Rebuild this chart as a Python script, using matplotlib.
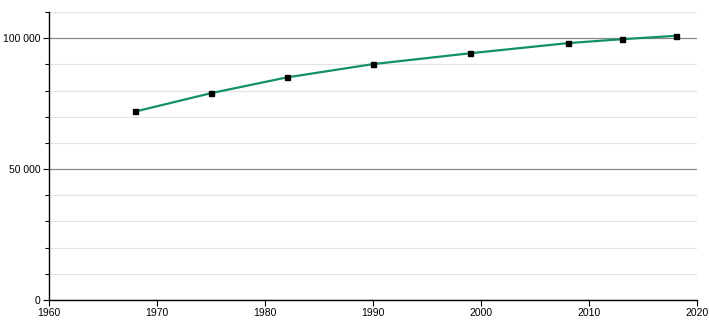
import matplotlib
matplotlib.use("Agg")
import matplotlib.pyplot as plt
from matplotlib.ticker import MultipleLocator, FuncFormatter

years = [1968, 1975, 1982, 1990, 1999, 2008, 2013, 2018]
population = [72000, 79000, 85000, 90100, 94250, 98100, 99600, 100900]

x_ticks = [1960, 1970, 1980, 1990, 2000, 2010, 2020]
y_ticks = [0, 50000, 100000]


def fmt_thousands(v, pos):
    return f"{int(v):,}".replace(",", " ")


plt.rcParams["font.family"] = ["Liberation Sans", "DejaVu Sans"]

fig = plt.figure(figsize=(7.1, 3.2), dpi=100)
ax = fig.add_axes([0.069, 0.0625, 0.913, 0.9])

ax.set_xlim(1960, 2020)
ax.set_ylim(0, 110000)

ax.set_xticks(x_ticks)
ax.set_yticks(y_ticks)
ax.yaxis.set_minor_locator(MultipleLocator(10000))
ax.yaxis.set_major_formatter(FuncFormatter(fmt_thousands))

ax.grid(True, axis="y", which="minor", color="#e3e3e3", linewidth=0.9)
ax.grid(True, axis="y", which="major", color="#888888", linewidth=0.9)
ax.set_axisbelow(True)

ax.plot(years, population, color="#11906a", linewidth=1.6,
        marker="s", markersize=3.6, markerfacecolor="black",
        markeredgecolor="black", zorder=3)

for side in ("top", "right"):
    ax.spines[side].set_visible(False)
for side in ("left", "bottom"):
    ax.spines[side].set_color("black")
    ax.spines[side].set_linewidth(1.0)

ax.tick_params(axis="both", which="major", labelsize=7.5, length=4, width=0.8, pad=2)
ax.tick_params(axis="y", which="minor", length=3, width=0.8)

fig.savefig("out.png", dpi=100)
